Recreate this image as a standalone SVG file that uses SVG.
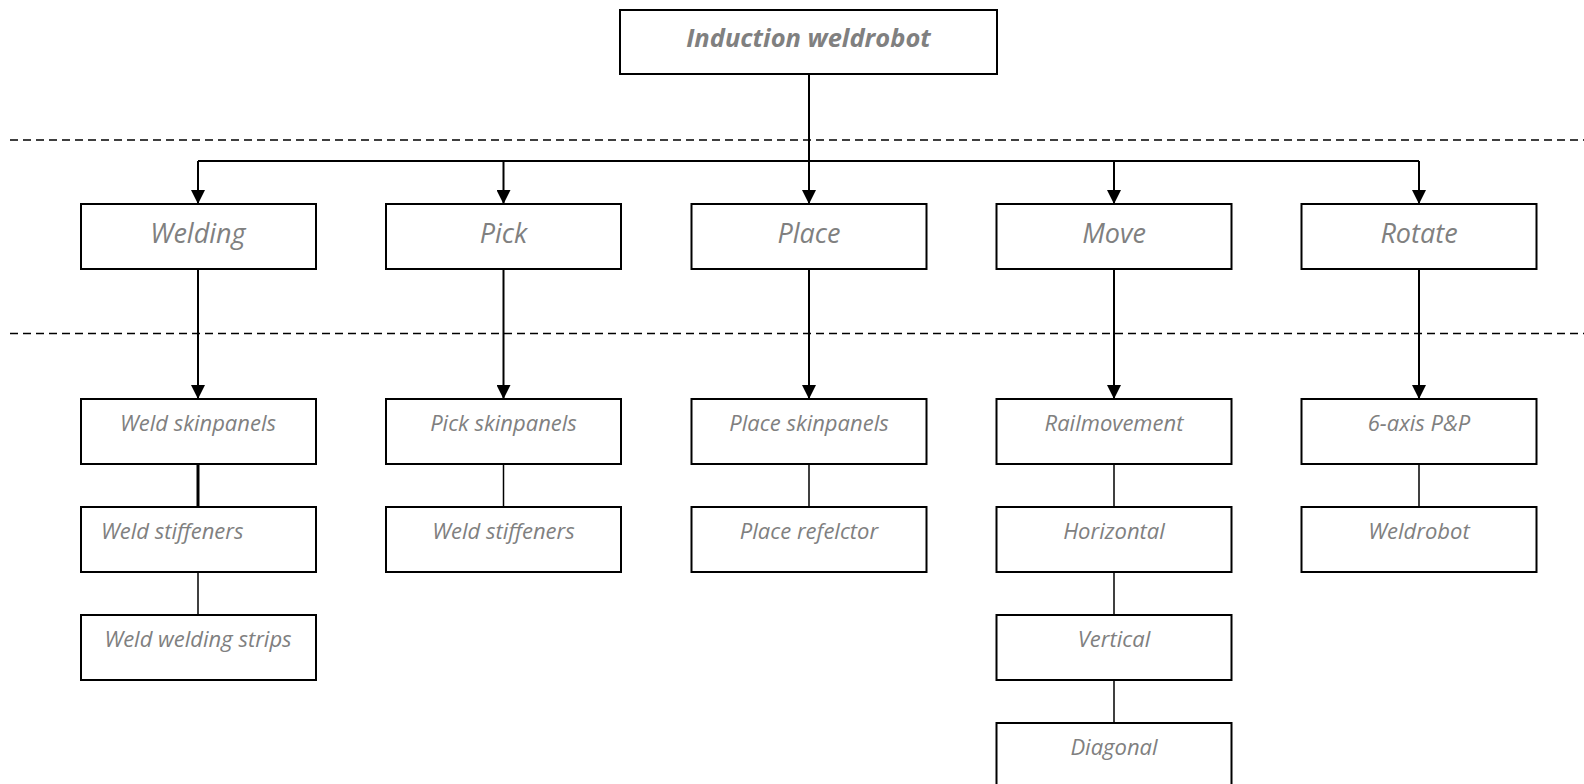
<svg xmlns="http://www.w3.org/2000/svg" width="1584" height="784" viewBox="0 0 1584 784">
<defs>
<marker id="arr" viewBox="0 0 14 14" refX="14" refY="7" markerWidth="14" markerHeight="14" markerUnits="userSpaceOnUse" orient="auto">
<path d="M0,0 L14,7 L0,14 Z" fill="#000"/>
</marker>
<style>
.box{fill:#fff;stroke:#000;stroke-width:2}
.t{font-family:"Open Sans","Liberation Sans",sans-serif;font-style:italic;fill:#808080;text-anchor:middle}
.t0{font-size:25.5px;font-weight:bold}
.t1{font-size:27px}
.t2{font-size:22px}
.c{fill:none;stroke:#000;stroke-width:2}
.ca{fill:none;stroke:#000;stroke-width:2;marker-end:url(#arr)}
.thin{fill:none;stroke:#000;stroke-width:1.5}
.dash{fill:none;stroke:#000;stroke-width:1.5;stroke-dasharray:8 5}
</style>
</defs>
<rect width="1584" height="784" fill="#fff"/>
<g id="separators">
<line class="dash" x1="10" y1="140" x2="1584" y2="140"/>
<line class="dash" x1="10" y1="333.5" x2="1584" y2="333.5"/>
</g>
<g id="connectors">
<line class="c" x1="809" y1="74" x2="809" y2="161"/>
<line class="c" x1="198" y1="161" x2="1419" y2="161"/>
<line class="ca" x1="198" y1="161" x2="198" y2="204"/>
<line class="ca" x1="503.5" y1="161" x2="503.5" y2="204"/>
<line class="ca" x1="809" y1="161" x2="809" y2="204"/>
<line class="ca" x1="1114" y1="161" x2="1114" y2="204"/>
<line class="ca" x1="1419" y1="161" x2="1419" y2="204"/>
<line class="ca" x1="198" y1="269" x2="198" y2="399"/>
<line class="ca" x1="503.5" y1="269" x2="503.5" y2="399"/>
<line class="ca" x1="809" y1="269" x2="809" y2="399"/>
<line class="ca" x1="1114" y1="269" x2="1114" y2="399"/>
<line class="ca" x1="1419" y1="269" x2="1419" y2="399"/>
<line class="c" x1="198" y1="464" x2="198" y2="507" style="stroke-width:3"/>
<line class="thin" x1="198" y1="572" x2="198" y2="615"/>
<line class="thin" x1="503.5" y1="464" x2="503.5" y2="507"/>
<line class="thin" x1="809" y1="464" x2="809" y2="507"/>
<line class="thin" x1="1114" y1="464" x2="1114" y2="507"/>
<line class="thin" x1="1114" y1="572" x2="1114" y2="615"/>
<line class="thin" x1="1114" y1="680" x2="1114" y2="723"/>
<line class="thin" x1="1419" y1="464" x2="1419" y2="507"/>
</g>
<g id="n-root"><rect class="box" x="620" y="10" width="377" height="64"/><text class="t t0" x="808.5" y="47">Induction weldrobot</text></g>
<g id="n-welding"><rect class="box" x="81" y="204" width="235" height="65"/><text class="t t1" x="198" y="243">Welding</text></g>
<g id="n-pick"><rect class="box" x="386" y="204" width="235" height="65"/><text class="t t1" x="503.5" y="243">Pick</text></g>
<g id="n-place"><rect class="box" x="691.5" y="204" width="235" height="65"/><text class="t t1" x="809" y="243">Place</text></g>
<g id="n-move"><rect class="box" x="996.5" y="204" width="235" height="65"/><text class="t t1" x="1114" y="243">Move</text></g>
<g id="n-rotate"><rect class="box" x="1301.5" y="204" width="235" height="65"/><text class="t t1" x="1419" y="243">Rotate</text></g>
<g id="n-weld-skin"><rect class="box" x="81" y="399" width="235" height="65"/><text class="t t2" x="198" y="431">Weld skinpanels</text></g>
<g id="n-weld-stiff"><rect class="box" x="81" y="507" width="235" height="65"/><text class="t t2" x="101" y="539" style="text-anchor:start">Weld stiffeners</text></g>
<g id="n-weld-strips"><rect class="box" x="81" y="615" width="235" height="65"/><text class="t t2" x="198" y="647">Weld welding strips</text></g>
<g id="n-pick-skin"><rect class="box" x="386" y="399" width="235" height="65"/><text class="t t2" x="503.5" y="431">Pick skinpanels</text></g>
<g id="n-pick-stiff"><rect class="box" x="386" y="507" width="235" height="65"/><text class="t t2" x="503.5" y="539">Weld stiffeners</text></g>
<g id="n-place-skin"><rect class="box" x="691.5" y="399" width="235" height="65"/><text class="t t2" x="809" y="431">Place skinpanels</text></g>
<g id="n-place-refl"><rect class="box" x="691.5" y="507" width="235" height="65"/><text class="t t2" x="809" y="539">Place refelctor</text></g>
<g id="n-rail"><rect class="box" x="996.5" y="399" width="235" height="65"/><text class="t t2" x="1114" y="431">Railmovement</text></g>
<g id="n-horiz"><rect class="box" x="996.5" y="507" width="235" height="65"/><text class="t t2" x="1114" y="539">Horizontal</text></g>
<g id="n-vert"><rect class="box" x="996.5" y="615" width="235" height="65"/><text class="t t2" x="1114" y="647">Vertical</text></g>
<g id="n-diag"><rect class="box" x="996.5" y="723" width="235" height="65"/><text class="t t2" x="1114" y="755">Diagonal</text></g>
<g id="n-6axis"><rect class="box" x="1301.5" y="399" width="235" height="65"/><text class="t t2" x="1419" y="431">6-axis P&amp;P</text></g>
<g id="n-weldrobot"><rect class="box" x="1301.5" y="507" width="235" height="65"/><text class="t t2" x="1419" y="539">Weldrobot</text></g>
</svg>
